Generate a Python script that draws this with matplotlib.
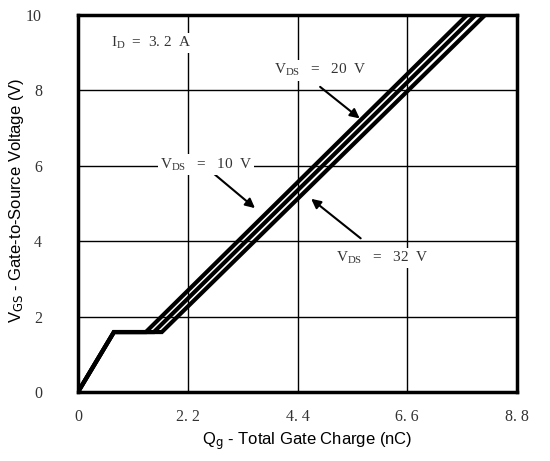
import matplotlib
matplotlib.use("Agg")
import matplotlib.pyplot as plt

plt.rcParams['mathtext.fontset'] = 'custom'
plt.rcParams['mathtext.rm'] = 'Liberation Serif'
plt.rcParams['mathtext.it'] = 'Liberation Serif'

# Data
vds_labels = ["10", "20", "32"]
plateau_v = 1.59
plateau_start = 0.72
plateau_end = [1.36, 1.52, 1.68]
q_at_10v = [7.80, 7.97, 8.16]

xticks = [0, 2.2, 4.4, 6.6, 8.8]
xtick_labels = ["0", "2. 2", "4. 4", "6. 6", "8. 8"]
yticks = [0, 2, 4, 6, 8, 10]
ytick_labels = ["0", "2", "4", "6", "8", "10"]

fig = plt.figure(figsize=(5.5, 4.61), dpi=100)
ax = fig.add_axes([78/550, 1-392/461, (517-78)/550, (392-15)/461])

for pe, qt in zip(plateau_end, q_at_10v):
    ax.plot([0, plateau_start, pe, qt], [0, plateau_v, plateau_v, 10],
            color='black', lw=3.0, solid_joinstyle='miter', zorder=3, clip_on=True)

ax.set_xlim(0, 8.8)
ax.set_ylim(0, 10)
ax.set_xticks(xticks)
ax.set_xticklabels(xtick_labels, family='Liberation Serif', fontsize=11.5, color='#333333')
ax.set_yticks(yticks)
ax.set_yticklabels(ytick_labels, family='Liberation Serif', fontsize=11.5, color='#333333')
ax.tick_params(length=0)
ax.tick_params(axis='x', pad=12)
ax.tick_params(axis='y', pad=26)
ax.grid(True, color='black', lw=1.0, zorder=1)
for s in ax.spines.values():
    s.set_linewidth(2.5)

ax.set_xlabel(r"Q$_{\mathsf{g}}$ - Total Gate Charge (nC)", family='Liberation Sans', fontsize=12)
ax.set_ylabel(r"V$_{\mathsf{GS}}$ - Gate-to-Source Voltage (V)", family='Liberation Sans', fontsize=12)
ax.xaxis.set_label_coords((307-78)/439, (392-441)/377)
ax.yaxis.set_label_coords((17-78)/439, (392-200)/377)
ax.xaxis.label.set_va('center')
ax.yaxis.label.set_va('center')

tkw = dict(family='Liberation Serif', fontsize=11, color='#333333', zorder=4,
           bbox=dict(facecolor='white', edgecolor='none', pad=1.5))

ax.text(0.66, 9.25, r"$\mathrm{I_D}$  =  3. 2  A", ha='left', va='center', **tkw)

ax.annotate("", xy=(3.59, 4.83), xytext=(2.66, 5.86),
            arrowprops=dict(arrowstyle='-|>', color='black', lw=1.5, mutation_scale=14), zorder=4)
ax.text(1.64, 6.03, r"$\mathrm{V_{DS}}$   =   " + vds_labels[0] + "  V", ha='left', va='center', **tkw)

ax.annotate("", xy=(5.69, 7.21), xytext=(4.81, 8.14),
            arrowprops=dict(arrowstyle='-|>', color='black', lw=1.5, mutation_scale=14), zorder=4)
ax.text(3.92, 8.53, r"$\mathrm{V_{DS}}$   =   " + vds_labels[1] + "  V", ha='left', va='center', **tkw)

ax.annotate("", xy=(4.63, 5.17), xytext=(5.71, 4.03),
            arrowprops=dict(arrowstyle='-|>', color='black', lw=1.5, mutation_scale=14), zorder=4)
ax.text(5.17, 3.55, r"$\mathrm{V_{DS}}$   =   " + vds_labels[2] + "  V", ha='left', va='center', **tkw)

fig.savefig("out.png", dpi=100)
